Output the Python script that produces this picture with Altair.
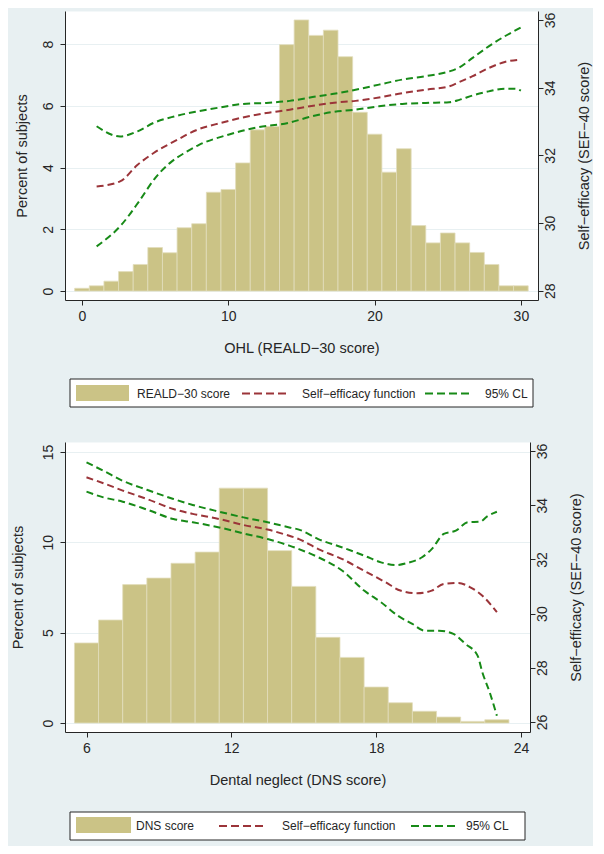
import altair as alt
import pandas as pd

KHAKI = "#CBC386"
BAR_EDGE = "#E2DDBD"
RED = "#9B3439"
GREEN = "#178A17"
BG = "#E8F0F2"
AX = "#262626"
FONT = "Liberation Sans"

# ---------------- Panel 1: OHL (REALD-30) ----------------
reald_scores = list(range(0, 31))
reald_pct = [0.09, 0.17, 0.32, 0.63, 0.86, 1.41, 1.24, 2.05, 2.18, 3.20, 3.29,
             4.15, 5.22, 5.33, 7.98, 8.78, 8.28, 8.45, 7.59, 5.79, 5.08,
             3.85, 4.61, 2.12, 1.56, 1.88, 1.56, 1.25, 0.86, 0.17, 0.17]

ohl_fit_x = [1.0, 2.6, 3.8, 4.9, 6.3, 7.9, 9.5, 11.0, 12.6, 14.2, 16.0, 17.1,
             18.7, 20.3, 21.9, 23.5, 25.1, 25.8, 26.7, 27.8, 28.9, 30.0]
ohl_fit_y = [31.08, 31.23, 31.72, 32.07, 32.41, 32.76, 32.96, 33.12, 33.25, 33.35,
             33.48, 33.55, 33.61, 33.71, 33.84, 33.94, 34.04, 34.17, 34.34, 34.58,
             34.76, 34.83]
ohl_hi_x = [1.0, 2.6, 3.8, 4.9, 6.3, 7.9, 9.5, 11.0, 12.6, 14.2, 16.0, 17.1,
            18.7, 20.3, 21.9, 23.5, 25.1, 25.8, 26.7, 27.8, 28.9, 30.0]
ohl_hi_y = [32.86, 32.56, 32.71, 32.96, 33.15, 33.30, 33.42, 33.52, 33.55, 33.61,
            33.74, 33.81, 33.94, 34.09, 34.24, 34.34, 34.48, 34.60, 34.88, 35.22,
            35.52, 35.78]
ohl_lo_x = [1.0, 2.7, 3.9, 5.0, 6.0, 7.0, 8.0, 10.0, 12.0, 14.1, 15.7, 17.1,
            18.7, 20.3, 21.9, 23.5, 25.1, 25.8, 26.7, 27.8, 28.9, 29.6, 30.0]
ohl_lo_y = [29.31, 29.95, 30.64, 31.33, 31.77, 32.07, 32.31, 32.61, 32.83, 32.96,
            33.15, 33.28, 33.35, 33.45, 33.52, 33.55, 33.57, 33.64, 33.77, 33.89,
            33.97, 33.97, 33.91]

# ---------------- Panel 2: Dental neglect (DNS) ----------------
dns_scores = list(range(6, 24))
dns_pct = [4.43, 5.70, 7.66, 8.02, 8.84, 9.46, 13.0, 13.0, 9.54, 7.56, 4.74,
           3.63, 1.99, 1.12, 0.65, 0.33, 0.09, 0.18]

dns_fit_x = [6.0, 6.7, 7.5, 8.5, 9.6, 10.4, 11.5, 12.5, 13.5, 14.4, 14.8, 15.6,
             16.6, 17.5, 18.4, 19.0, 19.7, 20.3, 20.8, 21.4, 21.9, 22.4, 23.0]
dns_fit_y = [35.03, 34.81, 34.54, 34.23, 33.86, 33.68, 33.49, 33.27, 33.10, 32.87,
             32.75, 32.38, 32.01, 31.58, 31.15, 30.85, 30.75, 30.85, 31.09, 31.13,
             30.97, 30.66, 30.05]
dns_hi_x = [6.0, 6.7, 7.5, 8.5, 9.6, 10.4, 11.5, 12.5, 13.5, 14.4, 14.8, 15.6,
            16.6, 17.5, 18.2, 18.8, 19.3, 19.9, 20.3, 20.8, 21.3, 21.8, 22.3, 22.6, 23.0]
dns_hi_y = [35.58, 35.27, 34.90, 34.57, 34.23, 34.01, 33.76, 33.55, 33.37, 33.18,
            33.10, 32.75, 32.44, 32.14, 31.89, 31.79, 31.87, 32.08, 32.38, 32.94,
            33.06, 33.37, 33.39, 33.59, 33.76]
dns_lo_x = [6.0, 6.7, 7.5, 8.5, 9.6, 10.4, 11.5, 12.5, 13.5, 14.4, 14.8, 15.6,
            16.6, 17.5, 18.2, 18.9, 19.5, 20.0, 20.6, 21.2, 21.7, 22.2, 22.4, 22.7, 23.0]
dns_lo_y = [34.50, 34.29, 34.13, 33.84, 33.49, 33.37, 33.18, 32.96, 32.75, 32.51,
            32.38, 32.08, 31.58, 30.85, 30.42, 29.92, 29.62, 29.37, 29.37, 29.25,
            28.88, 28.45, 27.83, 27.10, 26.23]

Y_LEFT_TITLE = "Percent of subjects"
Y_RIGHT_TITLE = "Self\u2212efficacy (SEF\u221240 score)"
FIT_LABEL = "Self\u2212efficacy function"
CI_LABEL = "95% CL"


def series_table(fx, fy, hx, hy, lx, ly):
    rows = []
    for name, kind, xs, ys in [("fit", "fit", fx, fy), ("upper", "ci", hx, hy),
                               ("lower", "ci", lx, ly)]:
        for a, b in zip(xs, ys):
            rows.append({"series": name, "kind": kind, "x": a, "y": b})
    return pd.DataFrame(rows)


def legend_layers(g, bar_label):
    one = pd.DataFrame({"k": [0]})
    box = alt.Chart(one).mark_rect(fill="white", stroke=AX, strokeWidth=1).encode(
        x=alt.value(g["box"][0]), x2=alt.value(g["box"][1]),
        y=alt.value(g["box"][2]), y2=alt.value(g["box"][3]))
    sw = alt.Chart(one).mark_rect(fill=KHAKI).encode(
        x=alt.value(g["sw"][0]), x2=alt.value(g["sw"][1]),
        y=alt.value(g["sw"][2]), y2=alt.value(g["sw"][3]))
    red = alt.Chart(one).mark_rule(color=RED, strokeWidth=2, strokeDash=[8, 4]).encode(
        x=alt.value(g["red"][0]), x2=alt.value(g["red"][1]), y=alt.value(g["ty"]))
    green = alt.Chart(one).mark_rule(color=GREEN, strokeWidth=2, strokeDash=[8, 4]).encode(
        x=alt.value(g["green"][0]), x2=alt.value(g["green"][1]), y=alt.value(g["ty"]))
    texts = []
    for xpos, lab in [(g["t1"], bar_label), (g["t2"], FIT_LABEL), (g["t3"], CI_LABEL)]:
        texts.append(alt.Chart(one).mark_text(align="left", baseline="middle", font=FONT,
                                              fontSize=12, color=AX).encode(
            x=alt.value(xpos), y=alt.value(g["ty"]), text=alt.value(lab)))
    return [box, sw, red, green] + texts


def make_panel(scores, pct, lines_df, xdom, xvals, xtitle, ldom, lvals, rdom, rvals,
               w, h, left_tp, leg, bar_label):
    hist = pd.DataFrame({"score": scores, "pct": pct})
    xscale = alt.Scale(domain=xdom, nice=False, zero=False)
    xaxis = alt.Axis(values=xvals, title=xtitle, tickSize=5, labelPadding=4,
                     titlePadding=18, labelFlush=False, format="d", grid=False)
    bars = alt.Chart(hist).transform_calculate(
        lo="datum.score - 0.5", hi="datum.score + 0.5", base="0"
    ).mark_rect(fill=KHAKI, stroke=BAR_EDGE, strokeWidth=0.8).encode(
        x=alt.X("lo:Q", scale=xscale, axis=xaxis),
        x2="hi:Q",
        y=alt.Y("pct:Q", scale=alt.Scale(domain=ldom, nice=False, zero=False),
                axis=alt.Axis(values=lvals, title=Y_LEFT_TITLE, orient="left",
                              grid=True, gridColor=BG, gridWidth=1,
                              labelAngle=270, labelAlign="center",
                              labelBaseline="bottom", labelPadding=5, tickSize=5,
                              titlePadding=left_tp, format="d")),
        y2="base:Q",
    )
    lines = alt.Chart(lines_df).mark_line(strokeWidth=2, strokeDash=[7, 4],
                                          interpolate="monotone").encode(
        x=alt.X("x:Q", scale=xscale, axis=xaxis),
        y=alt.Y("y:Q", scale=alt.Scale(domain=rdom, nice=False, zero=False),
                axis=alt.Axis(values=rvals, title=Y_RIGHT_TITLE, orient="right",
                              grid=False, labelAngle=270, labelAlign="center",
                              labelBaseline="top", labelPadding=0, tickSize=5,
                              titleAngle=270, titleBaseline="top", titlePadding=20,
                              format="d")),
        color=alt.Color("kind:N", scale=alt.Scale(domain=["fit", "ci"], range=[RED, GREEN]),
                        legend=None),
        detail="series:N",
    )
    return alt.layer(bars, lines, *legend_layers(leg, bar_label)).resolve_scale(
        y="independent").properties(width=w, height=h)


top_leg = {"box": [5, 468, 368, 396], "sw": [11, 64, 374, 390], "red": [177, 225],
           "green": [360, 408], "t1": 72, "t2": 237, "t3": 420, "ty": 382.5}
bot_leg = {"box": [5, 460, 370, 398], "sw": [11, 66, 375, 391], "red": [154, 198],
           "green": [346, 391], "t1": 71, "t2": 217, "t3": 401, "ty": 384}

top = make_panel(reald_scores, reald_pct,
                 series_table(ohl_fit_x, ohl_fit_y, ohl_hi_x, ohl_hi_y, ohl_lo_x, ohl_lo_y),
                 [-1.162, 31.17], [0, 10, 20, 30], "OHL (REALD\u221230 score)",
                 [-0.29, 9.07], [0, 2, 4, 6, 8], [27.725, 36.266], [28, 30, 32, 34, 36],
                 473, 289, 12, top_leg, "REALD\u221230 score")

bottom = make_panel(dns_scores, dns_pct,
                    series_table(dns_fit_x, dns_fit_y, dns_hi_x, dns_hi_y, dns_lo_x, dns_lo_y),
                    [5.109, 24.372], [6, 12, 18, 24], "Dental neglect (DNS score)",
                    [-0.498, 15.553], [0, 5, 10, 15], [25.631, 36.332],
                    [26, 28, 30, 32, 34, 36],
                    465, 290, 16, bot_leg, "DNS score")

chart = alt.vconcat(top, bottom, spacing=33).properties(
    padding={"left": 1, "top": 2, "right": 2, "bottom": 5}
).configure(background=BG).configure_view(
    fill="white", stroke="transparent"
).configure_axis(
    labelFont=FONT, titleFont=FONT, labelFontSize=14, titleFontSize=14.5,
    titleFontWeight="normal", labelColor=AX, titleColor=AX, domainColor=AX,
    tickColor=AX, domainWidth=1, tickWidth=1
)

chart.save("out.html", embed_options={"renderer": "svg", "actions": False})
